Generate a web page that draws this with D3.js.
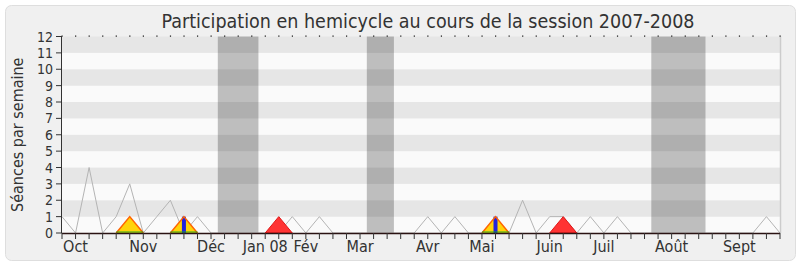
<!DOCTYPE html>
<html>
<head>
<meta charset="utf-8">
<script src="https://cdn.jsdelivr.net/npm/d3@7"></script>
<style>
  html, body { margin: 0; padding: 0; background: #ffffff; }
  svg text { font-family: 'DejaVu Sans Condensed', 'DejaVu Sans', sans-serif; font-stretch: condensed; fill: #333; }
</style>
</head>
<body>
<svg id="chart" width="800" height="267"></svg>
<script>
// Weekly hemicycle participation, session 2007-2008 (54 weeks, week 0 = start of October)
const title = "Participation en hemicycle au cours de la session 2007-2008";
const yTitle = "Séances par semaine";

// Median sessions per week (grey line)
const medianVals = [1,0,4,0,1,3,0,1,2,0, 1,0,0,0,0,0,0,1,0,1, 0,0,0,0,0,0,0,1,0,1,
                    0,0,0,0,2,0,1,1,0,1, 0,1,0,0,0,0,0,0,0,0, 0,0,1,0];
// Sessions attended (yellow)
const presenceVals = [0,0,0,0,0,1,0,0,0,1, 0,0,0,0,0,0,0,0,0,0, 0,0,0,0,0,0,0,0,0,0,
                      0,0,1,0,0,0,0,0,0,0, 0,0,0,0,0,0,0,0,0,0, 0,0,0,0];
// Sessions with interventions (blue bars)
const interventionVals = [0,0,0,0,0,0,0,0,0,1, 0,0,0,0,0,0,0,0,0,0, 0,0,0,0,0,0,0,0,0,0,
                          0,0,1,0,0,0,0,0,0,0, 0,0,0,0,0,0,0,0,0,0, 0,0,0,0];
// Red series
const redVals = [0,0,0,0,0,0,0,0,0,0, 0,0,0,0,0,0,1,0,0,0, 0,0,0,0,0,0,0,0,0,0,
                 0,0,0,0,0,0,0,1,0,0, 0,0,0,0,0,0,0,0,0,0, 0,0,0,0];
// Parliamentary recess, as [first week, last week]
const recessWeeks = [[12,14],[23,24],[44,47]];
// Month labels and the week they sit on
const monthLabels = ["Oct","Nov","Déc","Jan 08","Fév","Mar","Avr","Mai","Juin","Juil","Août","Sept"];
const monthWeeks  = [1,6,11,15,18,22,27,31,36,40,45,50];
const yTicks = [0,1,2,3,4,5,6,7,8,9,10,11,12];

const svg = d3.select("#chart");
const pLeft = 62, pRight = 780, pTop = 36.5, pBottom = 233;
const nWeeks = medianVals.length;
const x = d3.scaleLinear().domain([0, nWeeks - 1]).range([pLeft, pRight]);
const y = d3.scaleLinear().domain([0, 12]).range([pBottom, pTop]);

// outer panel
svg.append("rect").attr("x", 5.5).attr("y", 5.5).attr("width", 790).attr("height", 255)
  .attr("rx", 6).attr("fill", "#f0f0f0").attr("stroke", "#dedede");

// horizontal bands
svg.append("g").selectAll("rect").data(d3.range(12)).join("rect")
  .attr("x", pLeft).attr("width", pRight - pLeft)
  .attr("y", d => y(d + 1)).attr("height", d => y(d) - y(d + 1))
  .attr("fill", d => d % 2 === 1 ? "#e6e6e6" : "#fafafa");

// recess shading
svg.append("g").selectAll("rect").data(recessWeeks).join("rect")
  .attr("x", d => x(d[0] - 0.5)).attr("width", d => x(d[1] + 0.5) - x(d[0] - 0.5))
  .attr("y", pTop).attr("height", pBottom - pTop)
  .attr("fill", "#000").attr("fill-opacity", 0.24);

// right border of plot
svg.append("line").attr("x1", pRight + 0.5).attr("x2", pRight + 0.5).attr("y1", pTop).attr("y2", pBottom)
  .attr("stroke", "#cccccc").attr("stroke-width", 1.5);

// median line
svg.append("path").datum(medianVals)
  .attr("d", d3.line().x((d, i) => x(i)).y(d => y(d)))
  .attr("fill", "none").attr("stroke", "#b4b4b4").attr("stroke-width", 1);

// only draw series around their non-zero weeks
const near = (arr) => (d, i) => arr[i] > 0 || (i > 0 && arr[i - 1] > 0) || (i < arr.length - 1 && arr[i + 1] > 0);

// red area
const defR = near(redVals);
svg.append("path").datum(redVals)
  .attr("d", d3.area().defined(defR).x((d, i) => x(i)).y0(y(0)).y1(d => y(d)))
  .attr("fill", "#ff3333").attr("stroke", "#e01515").attr("stroke-width", 1);

// presence area
const defP = near(presenceVals);
svg.append("path").datum(presenceVals)
  .attr("d", d3.area().defined(defP).x((d, i) => x(i)).y0(y(0)).y1(d => y(d)))
  .attr("fill", "#ffd30a");

// intervention bars
svg.append("g").selectAll("rect")
  .data(interventionVals.map((v, i) => ({ v, i })).filter(d => d.v > 0)).join("rect")
  .attr("x", d => x(d.i) - 2).attr("width", 4)
  .attr("y", d => y(d.v)).attr("height", d => y(0) - y(d.v))
  .attr("fill", "#2222dd");

svg.append("path").datum(presenceVals)
  .attr("d", d3.line().defined(defP).x((d, i) => x(i)).y(d => y(d)))
  .attr("fill", "none").attr("stroke", "#ff6400").attr("stroke-width", 1.5);
svg.append("path").datum(presenceVals)
  .attr("d", d3.line().defined(defP).x((d, i) => x(i)).y(() => y(0) - 1))
  .attr("fill", "none").attr("stroke", "#22aa22").attr("stroke-width", 1);

// top tick dots
svg.append("g").selectAll("rect").data(d3.range(nWeeks)).join("rect")
  .attr("x", d => x(d) - 0.5).attr("y", 35.5).attr("width", 1.2).attr("height", 1.2)
  .attr("fill", "#111");

// x axis
const xAxis = svg.append("g").attr("transform", `translate(0,${pBottom})`);
xAxis.append("line").attr("x1", pLeft).attr("x2", pRight).attr("y1", 0.5).attr("y2", 0.5)
  .attr("stroke", "#2a1212").attr("stroke-width", 1.5);
xAxis.selectAll("line.t").data(d3.range(nWeeks)).join("line").attr("class", "t")
  .attr("x1", d => x(d)).attr("x2", d => x(d)).attr("y1", 0).attr("y2", 6)
  .attr("stroke", "#333");
xAxis.selectAll("text").data(monthLabels).join("text")
  .attr("x", (d, i) => x(monthWeeks[i])).attr("y", 18.5)
  .attr("text-anchor", "middle").attr("font-size", 16).text(d => d);

// y axis
const yAxis = svg.append("g").attr("transform", `translate(${pLeft},0)`);
yAxis.append("line").attr("x1", -0.5).attr("x2", -0.5).attr("y1", pTop).attr("y2", pBottom)
  .attr("stroke", "#333");
yAxis.selectAll("line.t").data(yTicks).join("line").attr("class", "t")
  .attr("x1", -6).attr("x2", 0).attr("y1", d => y(d)).attr("y2", d => y(d))
  .attr("stroke", "#333");
yAxis.selectAll("text").data(yTicks).join("text")
  .attr("x", -9).attr("y", d => y(d)).attr("dy", "0.36em")
  .attr("text-anchor", "end").attr("font-size", 14).text(d => d);

// titles
svg.append("text").attr("x", 428).attr("y", 27.5).attr("text-anchor", "middle")
  .attr("font-size", 19.5).text(title);
svg.append("text").attr("transform", `translate(23,${(pTop + pBottom) / 2}) rotate(-90)`)
  .attr("text-anchor", "middle").attr("font-size", 16).text(yTitle);
</script>
</body>
</html>
